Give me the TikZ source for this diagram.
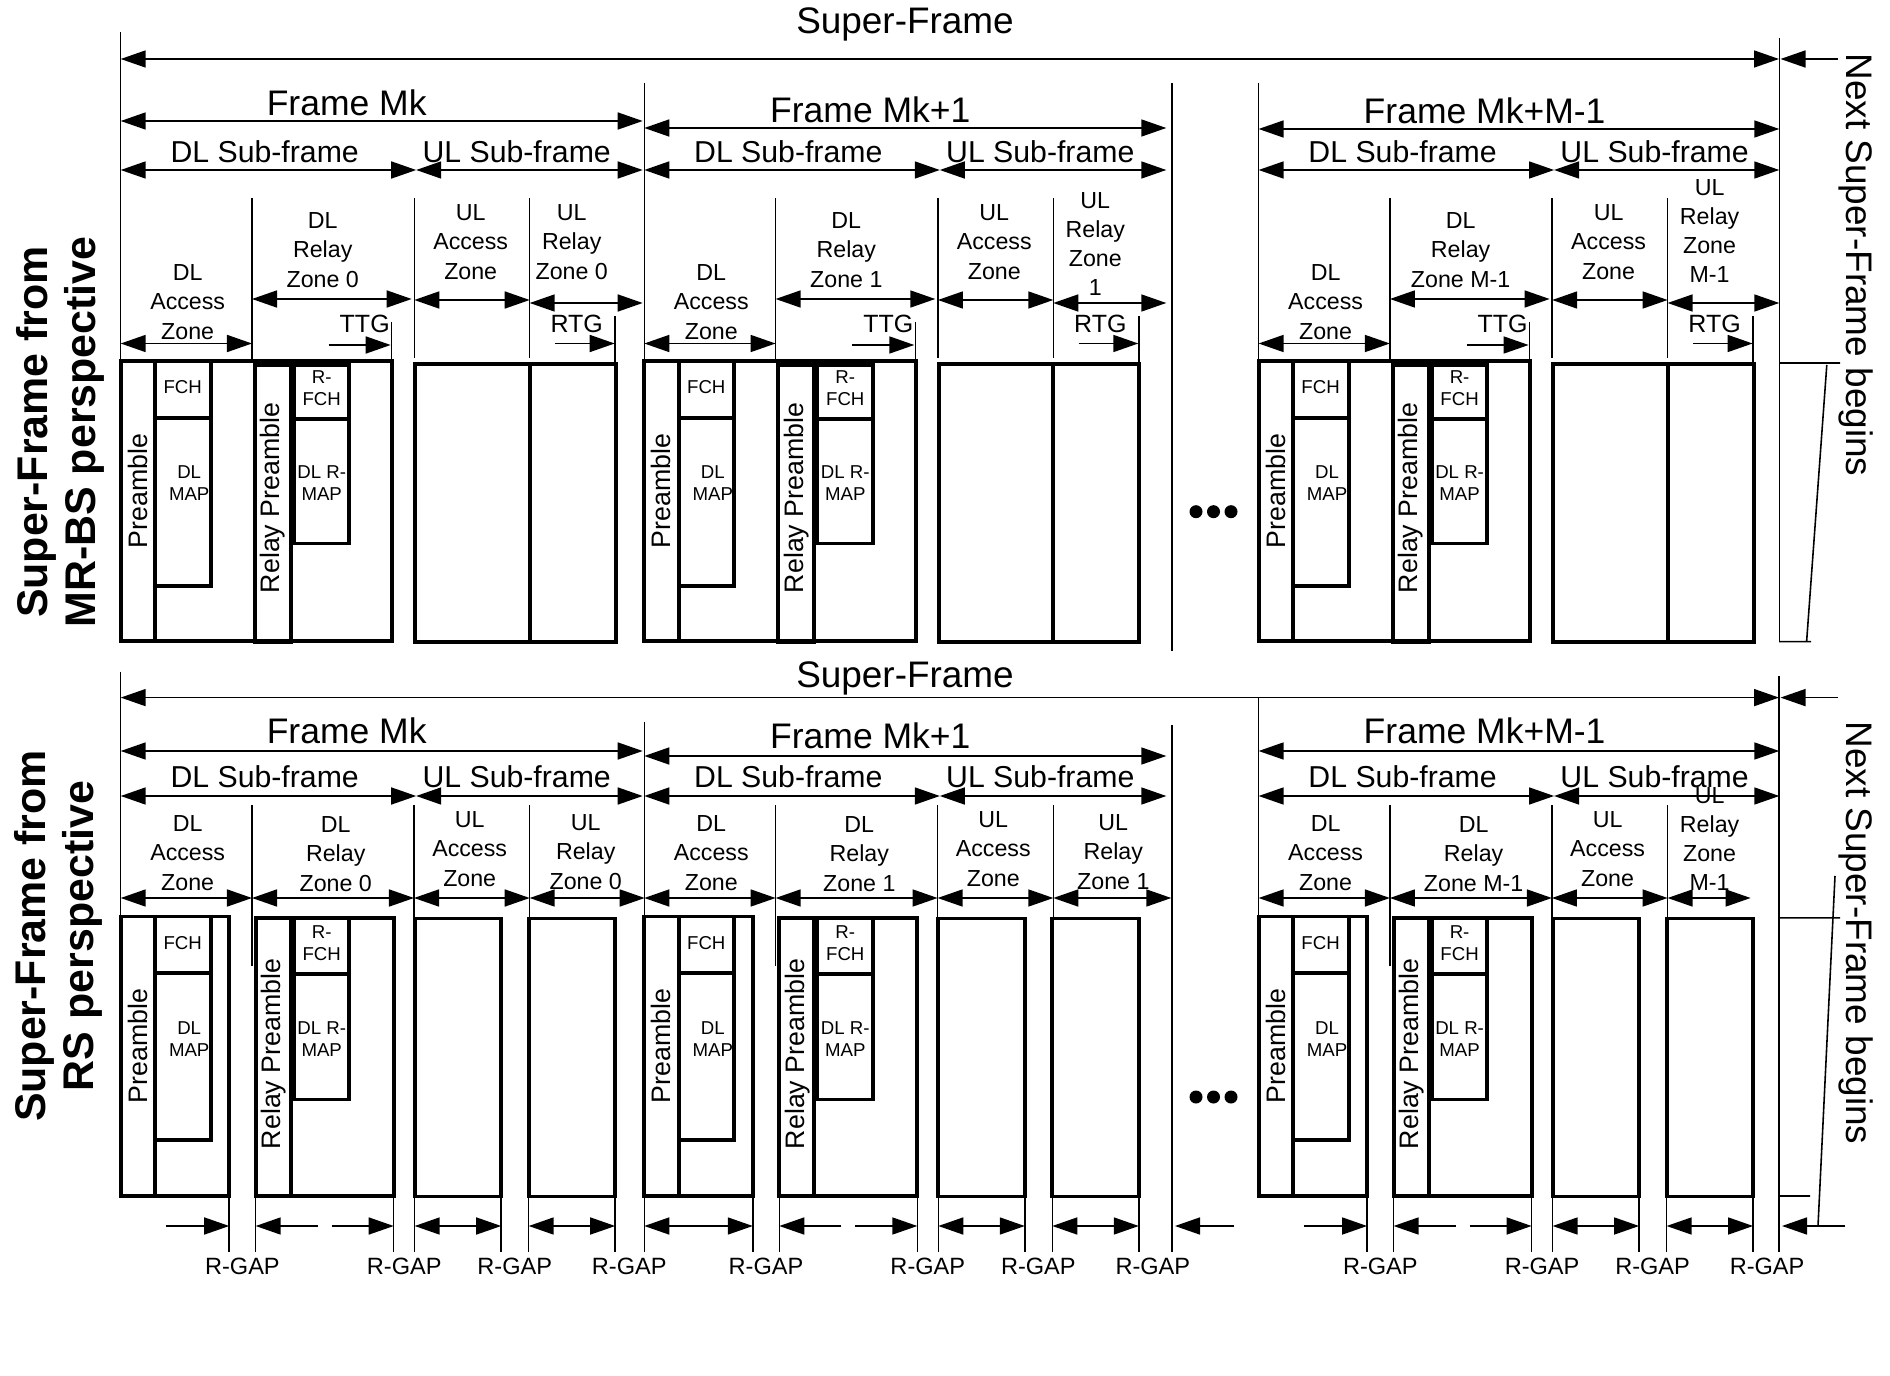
\documentclass[tikz,border=0pt]{standalone}
\usepackage{fontspec}
\setmainfont{Liberation Sans}
\usetikzlibrary{arrows.meta}

\begin{document}
\begin{tikzpicture}[x=0.01cm, y=-0.01cm,
    >={Triangle[length=2.5mm,width=1.7mm]},
    ln/.style={line width=0.45pt},
    dim/.style={ln, <->},
    blk/.style={line width=1.1pt},
    sftxt/.style={font=\fontsize{10.5}{12}\selectfont, inner sep=0pt},
    frtxt/.style={font=\fontsize{10.1}{12}\selectfont, inner sep=0pt},
    subtxt/.style={font=\fontsize{8.6}{10}\selectfont, inner sep=0pt},
    zonetxt/.style={font=\fontsize{6.6}{8.3}\selectfont, align=center, inner sep=0pt},
    gaptxt/.style={font=\fontsize{7.1}{8}\selectfont, inner sep=0pt},
    rgaptxt/.style={font=\fontsize{6.7}{8}\selectfont, inner sep=0pt},
    boxtxt/.style={font=\fontsize{5.3}{6.2}\selectfont, align=center, inner sep=0pt},
    pretxt/.style={font=\fontsize{7.6}{9}\selectfont, rotate=90, inner sep=0pt},
    sidetxt/.style={font=\fontsize{12.2}{13.6}\selectfont\bfseries, rotate=90, align=center, inner sep=0pt},
    nexttxt/.style={font=\fontsize{10.5}{12}\selectfont, rotate=-90, inner sep=0pt},
    dotn/.style={circle, fill, inner sep=0pt, minimum size=0.13cm},
  ]
  \useasboundingbox (0,0) rectangle (1890,1376);

  % Side titles
  \node[sidetxt] (sideT) at (60,432) {Super-Frame from\\MR-BS perspective};
  \node[sidetxt] (sideB) at (58,936) {Super-Frame from\\RS perspective};

  % ---------------- MR-BS perspective ----------------
  \node[sftxt] (sfT) at (905,24) {Super-Frame};
  \draw[dim] (120.7,59) -- (1779,59);
  \draw[ln,->] (1838,59) -- (1780.5,59);
  \draw[ln] (120.7,32) -- (120.7,83);
  \draw[ln] (1172,83) -- (1172,651);
  \draw[ln] (1779.3,38) -- (1779.3,641.7);

  \foreach \i/\x/\w/\fy/\fn/\zi/\ulr/\uly in {
      1/120.7/522/121/Mk/0/{UL\\Relay\\Zone 0}/242,
      2/644.3/522/128/Mk+1/1/{UL\\Relay\\Zone\\1}/244,
      3/1258.6/520.7/129/Mk+M-1/M-1/{UL\\Relay\\Zone\\M-1}/231}{
    \begin{scope}[shift={(\x,0)}]
      % frame and sub-frames
      \draw[ln] (0,83) -- (0,361);
      \node[frtxt] (frT\i) at (226,{\fy-18}) {Frame \fn};
      \draw[dim] (0,\fy) -- (\w,\fy);
      \node[subtxt] (dlsT\i) at (144,152) {DL Sub-frame};
      \node[subtxt] (ulsT\i) at (396,152) {UL Sub-frame};
      \draw[dim] (0,170) -- (295.5,170);
      \draw[dim] (295.5,170) -- (\w,170);
      % zones
      \draw[ln] (131.3,198) -- (131.3,361) (293.6,198) -- (293.6,358) (409,198) -- (409,358);
      \node[zonetxt] (daT\i) at (67,302) {DL\\Access\\Zone};
      \draw[dim] (0,343.5) -- (131.3,343.5);
      \node[zonetxt] (drT\i) at (202,250) {DL\\Relay\\Zone \zi};
      \draw[dim] (131.3,299) -- (291,299);
      \node[gaptxt] (ttgT\i) at (244,324) {TTG};
      \draw[ln,->] (208,345) -- (270,345);
      \draw[ln] (271,322) -- (271,361);
      \node[zonetxt] (uaT\i) at (350,242) {UL\\Access\\Zone};
      \draw[dim] (293.6,300) -- (409,300);
      \node[zonetxt] (urT\i) at (451,\uly) {\ulr};
      \draw[dim] (409,303) -- (\w,303);
      \node[gaptxt] (rtgT\i) at (456,324) {RTG};
      \draw[ln,->] (434.5,343.5) -- (494,343.5);
      \draw[ln] (494.5,316) -- (494.5,364);
      % bursts
      \draw[blk] (0,361) rectangle (271.5,641);
      \draw[blk] (34.7,361) -- (34.7,641);
      \draw[blk] (34.7,361) rectangle (90,418) (34.7,418) rectangle (90,586);
      \draw[blk] (134,365) rectangle (170,642);
      \draw[blk] (173,365) rectangle (228.5,419) (173,419) rectangle (228.5,543.5);
      \draw[blk] (294.5,364) rectangle (409,642) (409,364) rectangle (495,642);
      \node[pretxt] (preT\i) at (17,491) {Preamble};
      \node[boxtxt] (fchT\i) at (62,387.5) {FCH};
      \node[boxtxt] (mapT\i) at (68.5,483) {DL\\MAP};
      \node[pretxt] (rpreT\i) at (152,498) {Relay Preamble};
      \node[boxtxt] (rfchT\i) at (201,388) {R-\\FCH};
      \node[boxtxt] (rmapT\i) at (201,483) {DL R-\\MAP};
    \end{scope}
  }

  \node[dotn] (dT1) at (1196,511.7) {};
  \node[dotn] (dT2) at (1213.5,511.7) {};
  \node[dotn] (dT3) at (1231,511.7) {};

  % next super-frame marker
  \draw[ln] (1779,363) -- (1840,363) (1779,641.7) -- (1811,641.7) (1826.8,365) -- (1806.6,641.7);
  \node[nexttxt] (nxT) at (1856,265) {Next Super-Frame begins};

  % ---------------- RS perspective ----------------
  \node[sftxt] (sfB) at (905,678) {Super-Frame};
  \draw[dim] (120.7,697.6) -- (1779,697.6);
  \draw[ln,->] (1838,697.6) -- (1780.5,697.6);
  \draw[ln] (120.7,671.7) -- (120.7,916.5);
  \draw[ln] (644.5,721.7) -- (644.5,1252);
  \draw[ln] (1172,725) -- (1172,1252);
  \draw[ln] (1258.6,697.6) -- (1258.6,916.5);
  \draw[ln] (1779,675.8) -- (1779,1252);

  \foreach \i/\x/\w/\fy/\fn/\zi/\ulr/\urx/\ury/\ue/\ga/\gs in {
      1/120.7/522/751/Mk/0/{UL\\Relay\\Zone 0}/465/852/524/->/45,
      2/644.3/522/756/Mk+1/1/{UL\\Relay\\Zone 1}/469/852/527/<->/0,
      3/1258.6/520.7/751/Mk+M-1/M-1/{UL\\Relay\\Zone\\M-1}/451/839/492/->/45}{
    \begin{scope}[shift={(\x,0)}]
      % frame and sub-frames
      \node[frtxt] (frB\i) at (226,{\fy-20}) {Frame \fn};
      \draw[dim] (0,\fy) -- (\w,\fy);
      \node[subtxt] (dlsB\i) at (144,777) {DL Sub-frame};
      \node[subtxt] (ulsB\i) at (396,777) {UL Sub-frame};
      \draw[dim] (0,796) -- (295.5,796);
      \draw[dim] (295.5,796) -- (\w,796);
      % zones
      \draw[ln] (131.3,805) -- (131.3,966) (293.3,805) -- (293.3,966) (409,805) -- (409,966);
      \node[zonetxt] (daB\i) at (67,853) {DL\\Access\\Zone};
      \draw[dim] (0,898) -- (131.3,898);
      \node[zonetxt] (drB\i) at (215,854) {DL\\Relay\\Zone \zi};
      \draw[dim] (131.3,898) -- (293.3,898);
      \node[zonetxt] (uaB\i) at (349,849) {UL\\Access\\Zone};
      \draw[dim] (293.3,898) -- (409,898);
      \node[zonetxt] (urB\i) at (\urx,\ury) {\ulr};
      \draw[dim] (409,898) -- (\ue,898);
      % bursts
      \draw[blk] (0,916.5) rectangle (108.5,1196);
      \draw[blk] (34.7,916.5) -- (34.7,1196);
      \draw[blk] (34.7,916.5) rectangle (90,973) (34.7,973) rectangle (90,1140);
      \draw[blk] (135,918) rectangle (273,1196);
      \draw[blk] (170,918) -- (170,1196);
      \draw[blk] (173,918) rectangle (228.5,974) (173,974) rectangle (228.5,1099.5);
      \draw[blk] (294,918.5) rectangle (380.5,1196.5) (408,918.5) rectangle (494.5,1196.5);
      \node[pretxt] (preB\i) at (17,1046) {Preamble};
      \node[boxtxt] (fchB\i) at (62,943) {FCH};
      \node[boxtxt] (mapB\i) at (68.5,1039) {DL\\MAP};
      \node[pretxt] (rpreB\i) at (153,1054) {Relay Preamble};
      \node[boxtxt] (rfchB\i) at (201,943) {R-\\FCH};
      \node[boxtxt] (rmapB\i) at (201,1039) {DL R-\\MAP};
      % relay gaps
      \draw[ln] (108.5,1196) -- (108.5,1252) (135,1196) -- (135,1252) (273,1196) -- (273,1252)
                (294,1196) -- (294,1252) (380.5,1196) -- (380.5,1252) (408,1196) -- (408,1252)
                (494.5,1196) -- (494.5,1252);
      \draw[ln,arrows/.expanded=\ga] (\gs,1226) -- (108.5,1226);
      \draw[ln,->] (197,1226) -- (135,1226);
      \draw[ln,->] (211,1226) -- (273,1226);
      \draw[dim] (294,1226) -- (380.5,1226);
      \draw[dim] (408,1226) -- (494.5,1226);
      \node[rgaptxt] (rgaB\i) at (121.7,1266) {R-GAP};
      \node[rgaptxt] (rgbB\i) at (283.5,1266) {R-GAP};
      \node[rgaptxt] (rgcB\i) at (394,1266) {R-GAP};
      \node[rgaptxt] (rgdB\i) at (508.5,1266) {R-GAP};
    \end{scope}
  }
  \draw[ln,->] (1234,1226) -- (1175,1226);

  \node[dotn] (dB1) at (1196,1097) {};
  \node[dotn] (dB2) at (1213.5,1097) {};
  \node[dotn] (dB3) at (1231,1097) {};

  % next super-frame marker
  \draw[ln] (1779,917.8) -- (1840,917.8) (1779,1196) -- (1810,1196) (1835,876) -- (1818,1226);
  \draw[ln,->] (1845,1226) -- (1782,1226);
  \node[nexttxt] (nxB) at (1856,933) {Next Super-Frame begins};

\end{tikzpicture}
\end{document}
